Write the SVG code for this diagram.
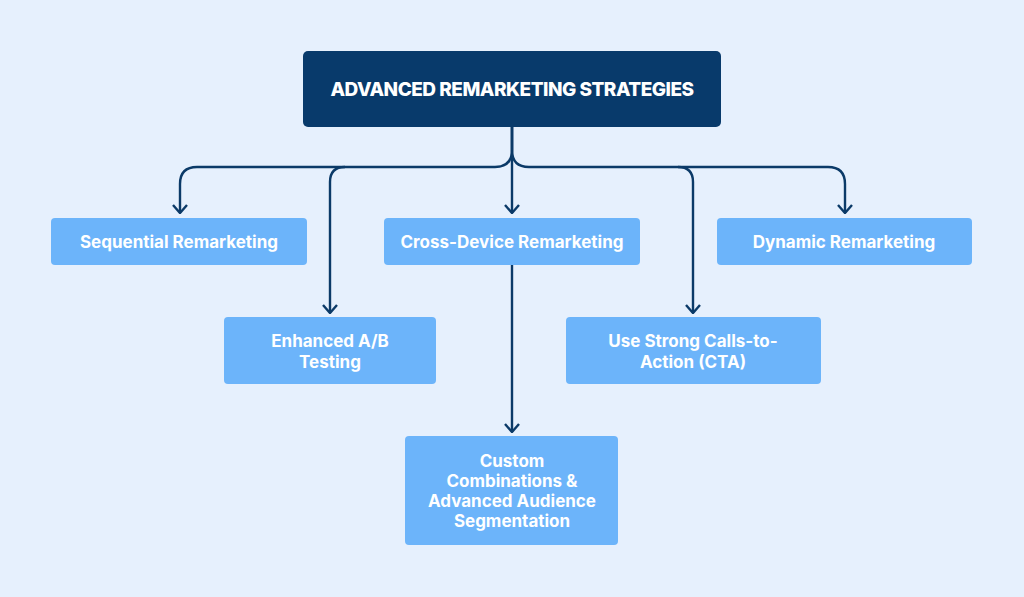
<svg xmlns="http://www.w3.org/2000/svg" width="1024" height="597" viewBox="0 0 1024 597">
<style>
.node{fill:#6cb4fa}
.lbl{font-family:Inter,"Noto Sans",sans-serif;font-weight:700;font-size:17px;fill:#ffffff;text-anchor:middle}
.title{font-family:Inter,"Noto Sans",sans-serif;font-weight:800;font-size:19px;fill:#ffffff;text-anchor:middle;letter-spacing:-0.5px}
.conn{fill:none;stroke:#0b3a68;stroke-width:2.4}
</style>
<defs>
<marker id="arr" viewBox="0 0 10 16" refX="9" refY="8" markerWidth="10" markerHeight="16" markerUnits="userSpaceOnUse" orient="auto">
<path d="M1,1 L9,8 L1,15" fill="none" stroke="#0b3a68" stroke-width="2.4"/>
</marker>
</defs>
<rect width="1024" height="597" fill="#e6f0fd"/>
<g id="connectors">
<path class="conn" d="M512,127 V150 Q512,167 495,167 H197 Q180,167 180,184 V213" marker-end="url(#arr)"/>
<path class="conn" d="M345,167 Q330,167 330,182 V313" marker-end="url(#arr)"/>
<path class="conn" d="M512,127 V213" marker-end="url(#arr)"/>
<path class="conn" d="M512,127 V150 Q512,167 529,167 H828 Q845,167 845,184 V213" marker-end="url(#arr)"/>
<path class="conn" d="M678,167 Q693,167 693,182 V313" marker-end="url(#arr)"/>
<path class="conn" d="M512,265 V432" marker-end="url(#arr)"/>
</g>
<g id="root">
<rect x="303" y="51" width="418" height="76" rx="5" fill="#083a6b"/>
<text class="title" x="512" y="96">ADVANCED REMARKETING STRATEGIES</text>
</g>
<g id="sequential">
<rect class="node" x="51" y="218" width="256" height="47" rx="4"/>
<text class="lbl" x="179" y="248">Sequential Remarketing</text>
</g>
<g id="crossdevice">
<rect class="node" x="384" y="218" width="256" height="47" rx="4"/>
<text class="lbl" x="512" y="248">Cross-Device Remarketing</text>
</g>
<g id="dynamic">
<rect class="node" x="717" y="218" width="255" height="47" rx="4"/>
<text class="lbl" x="844" y="248">Dynamic Remarketing</text>
</g>
<g id="abtesting">
<rect class="node" x="224" y="317" width="212" height="67" rx="4"/>
<text class="lbl" x="330" y="347">Enhanced A/B</text>
<text class="lbl" x="330" y="368">Testing</text>
</g>
<g id="cta">
<rect class="node" x="566" y="317" width="255" height="67" rx="4"/>
<text class="lbl" x="693" y="347">Use Strong Calls-to-</text>
<text class="lbl" x="693" y="368">Action (CTA)</text>
</g>
<g id="custom">
<rect class="node" x="405" y="436" width="213" height="109" rx="4"/>
<text class="lbl" x="512" y="467">Custom</text>
<text class="lbl" x="512" y="487">Combinations &amp;</text>
<text class="lbl" x="512" y="507">Advanced Audience</text>
<text class="lbl" x="512" y="527">Segmentation</text>
</g>
</svg>
